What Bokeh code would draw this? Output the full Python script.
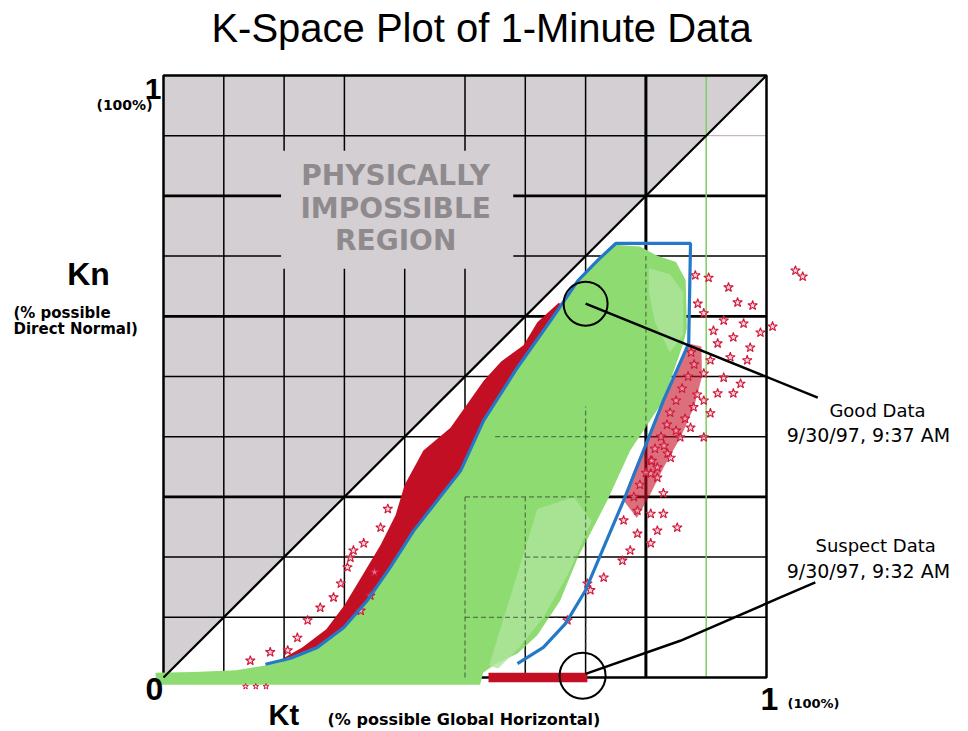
from bokeh.plotting import figure
from bokeh.models import Range1d
from bokeh.core.properties import value
from bokeh.embed import file_html
from bokeh.resources import INLINE

# ---------------- data (Kt, Kn) ----------------
grid_ticks = [0.1, 0.2, 0.3, 0.4, 0.5, 0.6, 0.7, 0.8, 0.9]

# physically impossible region (above Kn = Kt)
imp_kt = [0.0, 0.0, 1.0]
imp_kn = [0.0, 1.0, 1.0]

# outline of the dense green (good) data cloud
green_kt = [-0.013, -0.013, 0.05, 0.12, 0.169, 0.211, 0.255, 0.299, 0.338, 0.376,
            0.415, 0.454, 0.493, 0.531, 0.587, 0.642, 0.687, 0.720, 0.750, 0.790,
            0.820, 0.850, 0.866, 0.868, 0.862, 0.829, 0.774, 0.736,
            0.687, 0.658, 0.620, 0.587, 0.550, 0.530, 0.525]
green_kn = [-0.012, 0.008, 0.009, 0.012, 0.020, 0.030, 0.048, 0.081, 0.126, 0.181,
            0.242, 0.292, 0.342, 0.425, 0.513, 0.591, 0.657, 0.691, 0.719, 0.716,
            0.700, 0.690, 0.660, 0.580, 0.555, 0.460, 0.377, 0.294,
            0.199, 0.128, 0.070, 0.040, 0.022, 0.008, -0.012]

# sparser (lighter) parts of the green cloud
light1_kt = [0.540, 0.580, 0.620, 0.680, 0.710, 0.670, 0.630, 0.590, 0.555]
light1_kn = [0.020, 0.150, 0.280, 0.300, 0.260, 0.170, 0.100, 0.050, 0.015]
light2_kt = [0.805, 0.840, 0.862, 0.862, 0.840, 0.815, 0.805]
light2_kn = [0.680, 0.670, 0.640, 0.570, 0.540, 0.590, 0.640]

# dense red (suspect) band above the left limit curve
red_kt = [0.195, 0.211, 0.255, 0.299, 0.338, 0.376, 0.415, 0.454, 0.493, 0.531,
          0.587, 0.642, 0.662, 0.655, 0.620, 0.597, 0.560, 0.531, 0.476, 0.431,
          0.400, 0.385, 0.360, 0.330, 0.300, 0.270, 0.230]
red_kn = [0.030, 0.034, 0.052, 0.085, 0.130, 0.185, 0.246, 0.296, 0.346, 0.429,
          0.517, 0.595, 0.620, 0.622, 0.590, 0.552, 0.525, 0.493, 0.415, 0.377,
          0.320, 0.270, 0.220, 0.170, 0.120, 0.080, 0.050]

# dense red stars right of the right limit curve
redr_kt = [0.871, 0.892, 0.893, 0.880, 0.858, 0.830, 0.805, 0.785, 0.763, 0.778, 0.829]
redr_kn = [0.555, 0.550, 0.500, 0.450, 0.400, 0.350, 0.300, 0.265, 0.294, 0.339, 0.460]

# individual red star points
star_kt = [0.144, 0.177, 0.206, 0.222, 0.239, 0.260, 0.282, 0.294, 0.305, 0.315,
           0.332, 0.310, 0.360, 0.343, 0.327, 0.350, 0.372,
           0.882, 0.904, 0.937, 0.952, 0.977, 1.010, 0.990, 0.962, 0.929, 0.912,
           0.896, 0.886, 0.919, 0.945, 0.973, 0.968, 0.940, 0.907, 0.896, 0.929,
           0.957, 0.945, 0.919, 0.896, 0.879, 0.907, 0.874, 0.857, 0.896, 0.836,
           0.819, 0.808, 0.808, 0.841, 0.819, 0.829, 0.786, 0.808, 0.829, 0.763,
           0.786, 0.819, 0.852, 0.808, 0.774, 0.761, 0.730, 0.703, 0.708, 0.670,
           1.048, 1.060,
           0.875, 0.880, 0.870, 0.860, 0.850, 0.840, 0.835, 0.825, 0.815, 0.810,
           0.800, 0.790, 0.885, 0.865, 0.850, 0.830, 0.780]
star_kn = [0.028, 0.042, 0.045, 0.066, 0.095, 0.116, 0.133, 0.156, 0.183, 0.211,
           0.223, 0.199, 0.249, 0.136, 0.111, 0.175, 0.280,
           0.668, 0.664, 0.648, 0.623, 0.618, 0.583, 0.573, 0.588, 0.593, 0.576,
           0.605, 0.621, 0.555, 0.565, 0.548, 0.527, 0.532, 0.527, 0.505, 0.498,
           0.488, 0.472, 0.472, 0.460, 0.449, 0.439, 0.415, 0.399, 0.399, 0.372,
           0.349, 0.339, 0.360, 0.365, 0.332, 0.306, 0.277, 0.272, 0.272, 0.261,
           0.239, 0.244, 0.249, 0.223, 0.211, 0.194, 0.166, 0.156, 0.145, 0.095,
           0.676, 0.666,
           0.540, 0.520, 0.500, 0.480, 0.460, 0.440, 0.420, 0.400, 0.380, 0.360,
           0.340, 0.320, 0.470, 0.430, 0.410, 0.385, 0.300]
tiny_kt = [0.136, 0.153, 0.170]
tiny_kn = [-0.015, -0.015, -0.015]

# suspect data bar on the Kn = 0 line
bar_left, bar_right, bar_bottom, bar_top = 0.539, 0.703, -0.008, 0.008

# blue limit envelope
blue_kt = [0.169, 0.211, 0.255, 0.299, 0.338, 0.376, 0.415, 0.454, 0.493, 0.531,
           0.587, 0.642, 0.687, 0.720, 0.750, 0.874, 0.871, 0.829, 0.796, 0.763,
           0.730, 0.700, 0.667, 0.630, 0.587]
blue_kn = [0.022, 0.032, 0.050, 0.083, 0.128, 0.183, 0.244, 0.294, 0.344, 0.427,
           0.515, 0.593, 0.659, 0.693, 0.721, 0.721, 0.555, 0.460, 0.377, 0.294,
           0.216, 0.145, 0.090, 0.050, 0.023]

# highlighted records
good_pt = (0.700, 0.621)
suspect_pt = (0.695, 0.003)
good_leader_kt = [0.700, 1.085]
good_leader_kn = [0.621, 0.465]
sus_leader_kt = [0.700, 0.857, 1.023, 1.081]
sus_leader_kn = [0.006, 0.061, 0.133, 0.158]

# text box kept free of grid lines
gap_x0, gap_x1, gap_y0, gap_y1 = 0.195, 0.580, 0.679, 0.875

# ---------------- figure ----------------
W, H = 968, 731
p = figure(width=W, height=H, output_backend="svg", toolbar_location=None,
           x_axis_type=None, y_axis_type=None, min_border=0,
           x_range=Range1d(-163 / 603, (W - 163) / 603),
           y_range=Range1d((677 - H) / 602, 677 / 602))
p.grid.visible = False
p.outline_line_color = None
p.background_fill_color = "white"
p.border_fill_color = "white"

# impossible region
p.patch(imp_kt, imp_kn, fill_color="#D4CFD2", line_color=None)

# grid lines
thick = {0.8}
thick_h = {0.8, 0.6, 0.3}
for t in grid_ticks:
    # vertical
    if t == 0.4:
        segs = [(0.0, gap_y0)]
    elif gap_x0 <= t <= gap_x1:
        segs = [(0.0, gap_y0), (gap_y1, 1.0)]
    else:
        segs = [(0.0, 1.0)]
    col = "#7CCF5E" if abs(t - 0.9) < 1e-9 else "black"
    lw = 3 if any(abs(t - a) < 1e-9 for a in thick) else 1.5
    for a, b in segs:
        p.line([t, t], [a, b], line_color=col, line_width=lw)
    # horizontal
    if gap_y0 <= t <= gap_y1:
        segs = [(0.0, gap_x0), (gap_x1, 1.0)]
    elif abs(t - 0.9) < 1e-9:
        segs = [(0.0, t)]
        p.line([t, 1.0], [t, t], line_color="#B8A6B8", line_width=1)
    else:
        segs = [(0.0, 1.0)]
    lw = 2.8 if any(abs(t - a) < 1e-9 for a in thick_h) else 1.5
    for a, b in segs:
        p.line([a, b], [t, t], line_color="black", line_width=lw)

# frame
p.line([0, 1, 1, 0, 0], [0, 0, 1, 1, 0], line_color="black", line_width=2.5)

# green data
p.patch(green_kt, green_kn, fill_color="#8EDB72", line_color=None)
p.patch(light1_kt, light1_kn, fill_color="#AEE59A", fill_alpha=0.8, line_color=None)
p.patch(light2_kt, light2_kn, fill_color="#AEE59A", fill_alpha=0.8, line_color=None)

# grid seen through the sparse green
dash_x0 = [0.5, 0.6, 0.8, 0.5, 0.55, 0.6, 0.5, 0.7]
dash_y0 = [0.0, 0.0, 0.40, 0.3, 0.4, 0.2, 0.1, 0.05]
dash_x1 = [0.5, 0.6, 0.8, 0.71, 0.78, 0.69, 0.66, 0.7]
dash_y1 = [0.3, 0.3, 0.70, 0.3, 0.4, 0.2, 0.1, 0.45]
p.segment(dash_x0, dash_y0, dash_x1, dash_y1, line_color="#2B3A2B", line_alpha=0.6,
          line_width=1.3, line_dash="5 3")

# red data
p.patch(red_kt, red_kn, fill_color="#C30F23", line_color=None)
p.patch(redr_kt, redr_kn, fill_color="#C30F23", fill_alpha=0.6, line_color=None)
p.scatter(star_kt, star_kn, marker="star", size=10, line_color="#D0183A",
          fill_color="#F3B8C4", fill_alpha=0.6, line_width=1.1)
p.scatter(tiny_kt, tiny_kn, marker="star", size=6, line_color="#D0183A",
          fill_color=None, line_width=1)
p.quad(left=[bar_left], right=[bar_right], bottom=[bar_bottom], top=[bar_top],
       fill_color="#C30F23", line_color=None)

# blue envelope
p.line(blue_kt, blue_kn, line_color="#2478C8", line_width=3.2)

# diagonal limit
p.line([0, 1], [0, 1], line_color="black", line_width=2.2)

# highlighted points
p.scatter([good_pt[0]], [good_pt[1]], marker="circle", size=44, fill_color=None,
          line_color="black", line_width=2)
p.scatter([suspect_pt[0]], [suspect_pt[1]], marker="circle", size=46, fill_color=None,
          line_color="black", line_width=2)
p.line(good_leader_kt, good_leader_kn, line_color="black", line_width=2.5)
p.line(sus_leader_kt, sus_leader_kn, line_color="black", line_width=2.5)


def label(x, y, s, size, font="Liberation Sans", style="bold", align="left", color="black"):
    p.text(x=[x], y=[y], text=[s], text_font=value(font), text_font_size=value(size),
           text_font_style=style, text_align=align, text_baseline="middle",
           text_color=color)


label(0.5274, 1.0787, "K-Space Plot of 1-Minute Data", "40px", style="normal", align="center")
label(0.385, 0.8339, "PHYSICALLY", "28px", font="DejaVu Sans", align="center", color="#8E8A8E")
label(0.385, 0.7791, "IMPOSSIBLE", "28px", font="DejaVu Sans", align="center", color="#8E8A8E")
label(0.385, 0.7259, "REGION", "28px", font="DejaVu Sans", align="center", color="#8E8A8E")

label(-0.0033, 0.9784, "1", "30px", align="right")
label(-0.0182, 0.9518, "(100%)", "14px", font="DejaVu Sans", align="right")
label(-0.1244, 0.6703, "Kn", "32px", align="center")
label(-0.2488, 0.6063, "(% possible", "15px", font="DejaVu Sans")
label(-0.2488, 0.5797, "Direct Normal)", "15px", font="DejaVu Sans")
label(-0.0149, -0.0191, "0", "32px", align="center")
label(0.1741, -0.0615, "Kt", "29px")
label(0.272, -0.0698, "(% possible Global Horizontal)", "16px", font="DejaVu Sans")
label(0.990, -0.0357, "1", "32px")
label(1.0348, -0.0432, "(100%)", "13px", font="DejaVu Sans")

label(1.184, 0.4435, "Good Data", "18px", font="DejaVu Sans", style="normal", align="center")
label(1.179, 0.4020, "9/30/97,  9:37  AM", "19px", font="DejaVu Sans", style="normal", align="center")
label(1.181, 0.2193, "Suspect Data", "18px", font="DejaVu Sans", style="normal", align="center")
label(1.179, 0.1777, "9/30/97,  9:32  AM", "19px", font="DejaVu Sans", style="normal", align="center")

open("out.html", "w").write(file_html(p, INLINE))
